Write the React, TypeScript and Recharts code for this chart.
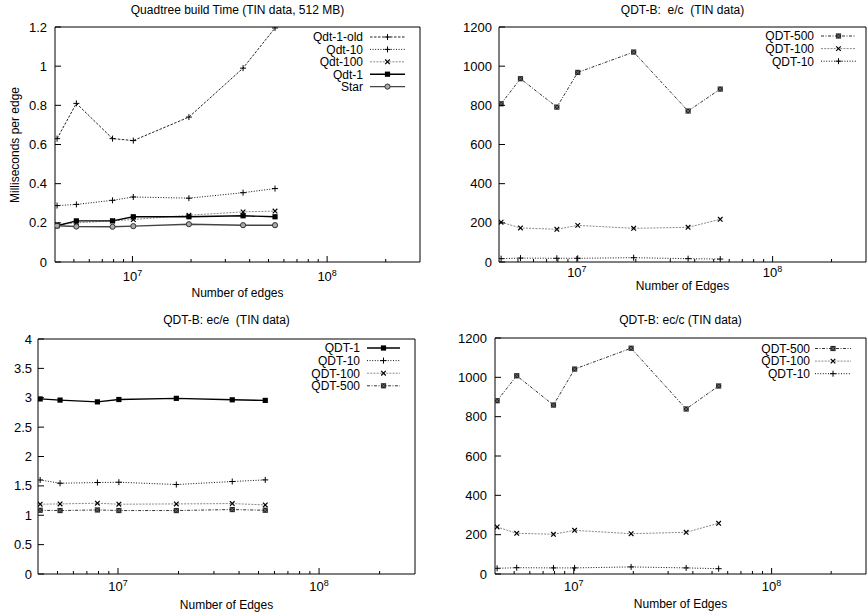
import { LineChart, Line, XAxis, YAxis, ReferenceArea } from "recharts";

const FONT = '"Liberation Sans", Arial, Helvetica, sans-serif';

// x: number of edges (shared by all four plots)
const edges = [4.1e6, 5.15e6, 7.9e6, 1.01e7, 1.95e7, 3.7e7, 5.4e7];
const xDomain = [4e6, 3e8];
const xTicks = [5e6, 6e6, 7e6, 8e6, 9e6, 1e7, 2e7, 3e7, 4e7, 5e7, 6e7, 7e7, 8e7, 9e7, 1e8, 2e8];

// Quadtree build time, ms per edge
const buildQdt1Old = [0.63, 0.81, 0.63, 0.62, 0.74, 0.99, 1.195];
const buildQdt10 = [0.288, 0.294, 0.315, 0.332, 0.326, 0.354, 0.375];
const buildQdt100 = [0.19, 0.2, 0.21, 0.217, 0.239, 0.256, 0.26];
const buildQdt1 = [0.185, 0.21, 0.21, 0.231, 0.231, 0.236, 0.231];
const buildStar = [0.185, 0.181, 0.18, 0.183, 0.193, 0.188, 0.188];
const buildTicks = [0, 0.2, 0.4, 0.6, 0.8, 1, 1.2];

// QDT-B e/c
const ecQdt500 = [808, 936, 791, 968, 1072, 771, 883];
const ecQdt100 = [203, 174, 167, 187, 172, 177, 218];
const ecQdt10 = [17, 20, 19, 19, 22, 17, 15];
const countTicks = [0, 200, 400, 600, 800, 1000, 1200];

// QDT-B ec/e
const eceQdt1 = [2.98, 2.96, 2.93, 2.97, 2.99, 2.965, 2.955];
const eceQdt10 = [1.6, 1.545, 1.557, 1.562, 1.523, 1.574, 1.602];
const eceQdt100 = [1.188, 1.193, 1.205, 1.188, 1.193, 1.199, 1.176];
const eceQdt500 = [1.085, 1.08, 1.09, 1.08, 1.08, 1.097, 1.085];
const ratioTicks = [0, 0.5, 1, 1.5, 2, 2.5, 3, 3.5, 4];

// QDT-B ec/c
const eccQdt500 = [881, 1008, 859, 1042, 1148, 839, 956];
const eccQdt100 = [239, 207, 202, 222, 205, 212, 258];
const eccQdt10 = [29, 32, 31, 31, 36, 31, 27];

type MarkerKind = "plus" | "cross" | "square" | "circle" | "boxcross";

type Series = {
  key: string;
  label: string;
  values: number[];
  stroke: string;
  dash?: string;
  width: number;
  marker: MarkerKind;
};

const s = (key: string, label: string, values: number[], style: string): Series => {
  const styles: Record<string, Omit<Series, "key" | "label" | "values">> = {
    old: { stroke: "#222", dash: "2.5 1.5", width: 1, marker: "plus" },
    dotted: { stroke: "#111", dash: "1 1.6", width: 1, marker: "plus" },
    grey: { stroke: "#8a8a8a", dash: "2 1.2", width: 1, marker: "cross" },
    solid: { stroke: "#000", width: 1.4, marker: "square" },
    star: { stroke: "#444", width: 1.4, marker: "circle" },
    dashdot: { stroke: "#333", dash: "3 1.5 1 1.5", width: 1, marker: "boxcross" },
  };
  return { key, label, values, ...styles[style] };
};

function Marker({ kind, cx, cy }: { kind: MarkerKind; cx: number; cy: number }) {
  if (cx == null || cy == null) return null;
  switch (kind) {
    case "plus":
      return <path d={`M${cx - 3},${cy}H${cx + 3}M${cx},${cy - 3}V${cy + 3}`} stroke="#000" strokeWidth={1} fill="none" />;
    case "cross":
      return (
        <path
          d={`M${cx - 2.3},${cy - 2.3}L${cx + 2.3},${cy + 2.3}M${cx - 2.3},${cy + 2.3}L${cx + 2.3},${cy - 2.3}`}
          stroke="#000"
          strokeWidth={1.2}
          fill="none"
        />
      );
    case "square":
      return <rect x={cx - 2.6} y={cy - 2.6} width={5.2} height={5.2} fill="#000" />;
    case "circle":
      return <circle cx={cx} cy={cy} r={2.6} fill="#aaa" stroke="#333" strokeWidth={1} />;
    case "boxcross":
      return (
        <g>
          <rect x={cx - 2.6} y={cy - 2.6} width={5.2} height={5.2} fill="#222" />
          <path d={`M${cx - 2},${cy - 2}L${cx + 2},${cy + 2}M${cx - 2},${cy + 2}L${cx + 2},${cy - 2}`} stroke="#888" strokeWidth={0.7} />
        </g>
      );
  }
  return null;
}

function XTick(props: any) {
  const { x, y, payload, labelDy } = props;
  const v = payload.value as number;
  const exp = Math.round(Math.log10(v));
  const major = Math.abs(Math.log10(v) - exp) < 1e-6;
  return (
    <g>
      <line x1={x} x2={x} y1={y} y2={y - (major ? 6 : 3)} stroke="#000" strokeWidth={1} />
      {major && (
        <text x={x} y={y + labelDy} textAnchor="middle" fontFamily={FONT} fontSize={13} fill="#000">
          10
          <tspan dy={-5} fontSize={9}>
            {exp}
          </tspan>
        </text>
      )}
    </g>
  );
}

function YTick(props: any) {
  const { x, y, payload, gap } = props;
  return (
    <g>
      <line x1={x} x2={x + 6} y1={y} y2={y} stroke="#000" strokeWidth={1} />
      <text x={x - gap} y={y + 4.5} textAnchor="end" fontFamily={FONT} fontSize={13} fill="#000">
        {String(payload.value)}
      </text>
    </g>
  );
}

type PanelProps = {
  left: number;
  top: number;
  width: number;
  height: number;
  plotTop: number;
  plotRight: number;
  yAxisWidth: number;
  xAxisHeight: number;
  yTicks: number[];
  series: Series[];
  title: string;
  titleY: number;
  xLabel: string;
  xLabelY: number;
  yLabel?: string;
  tickDy: number;
  yGap: number;
  legend: { textEnd: number; x1: number; x2: number; y0: number; step: number };
};

function Panel(p: PanelProps) {
  const data = edges.map((e, i) => {
    const row: Record<string, number> = { edges: e };
    p.series.forEach((ser) => (row[ser.key] = ser.values[i]));
    return row;
  });
  const yDomain = [p.yTicks[0], p.yTicks[p.yTicks.length - 1]];
  const plotLeft = p.yAxisWidth;
  const plotRightX = p.width - p.plotRight;
  const cx = (plotLeft + plotRightX) / 2;
  const plotBottom = p.height - p.xAxisHeight;
  const textStyle = {
    position: "absolute" as const,
    width: 320,
    left: cx - 160,
    textAlign: "center" as const,
    fontFamily: FONT,
    fontSize: 12,
    lineHeight: "14px",
    whiteSpace: "pre" as const,
    color: "#000",
  };
  return (
    <div style={{ position: "absolute", left: p.left, top: p.top, width: p.width, height: p.height }}>
      <div style={{ ...textStyle, top: p.titleY - 7 }}>{p.title}</div>
      <LineChart
        width={p.width}
        height={p.height}
        data={data}
        margin={{ top: p.plotTop, right: p.plotRight, bottom: 0, left: 0 }}
      >
        <XAxis
          dataKey="edges"
          type="number"
          scale="log"
          domain={xDomain}
          ticks={xTicks}
          interval={0}
          allowDataOverflow
          height={p.xAxisHeight}
          axisLine={false}
          tickLine={false}
          tickSize={0}
          tickMargin={0}
          tick={<XTick labelDy={p.tickDy} />}
        />
        <YAxis
          type="number"
          domain={yDomain}
          ticks={p.yTicks}
          interval={0}
          allowDataOverflow
          width={p.yAxisWidth}
          axisLine={false}
          tickLine={false}
          tickSize={0}
          tickMargin={0}
          tick={<YTick gap={p.yGap} />}
        />
        {p.series.map((ser) => (
          <Line
            key={ser.key}
            dataKey={ser.key}
            type="linear"
            stroke={ser.stroke}
            strokeWidth={ser.width}
            strokeDasharray={ser.dash}
            isAnimationActive={false}
            activeDot={false}
            dot={(d: any) => <Marker key={`${ser.key}-${d.index}`} kind={ser.marker} cx={d.cx} cy={d.cy} />}
          />
        ))}
        <ReferenceArea
          x1={xDomain[0]}
          x2={xDomain[1]}
          y1={yDomain[0]}
          y2={yDomain[1]}
          fill="none"
          stroke="#000"
          strokeWidth={1}
          ifOverflow="visible"
        />
      </LineChart>
      <svg
        width={p.width}
        height={p.height}
        style={{ position: "absolute", left: 0, top: 0, pointerEvents: "none" }}
      >
        {p.series.map((ser, i) => {
          const y = p.legend.y0 + i * p.legend.step;
          return (
            <g key={ser.key}>
              <text x={p.legend.textEnd} y={y + 4.3} textAnchor="end" fontFamily={FONT} fontSize={12} fill="#000">
                {ser.label}
              </text>
              <line
                x1={p.legend.x1}
                x2={p.legend.x2}
                y1={y}
                y2={y}
                stroke={ser.stroke}
                strokeWidth={ser.width}
                strokeDasharray={ser.dash}
              />
              <Marker kind={ser.marker} cx={(p.legend.x1 + p.legend.x2) / 2} cy={y} />
            </g>
          );
        })}
      </svg>
      <div style={{ ...textStyle, top: p.xLabelY - 7 }}>{p.xLabel}</div>
      {p.yLabel && (
        <div
          style={{
            ...textStyle,
            width: 200,
            left: 15 - 100,
            top: (p.plotTop + plotBottom) / 2 - 7,
            transform: "rotate(-90deg)",
          }}
        >
          {p.yLabel}
        </div>
      )}
    </div>
  );
}

export default function App() {
  return (
    <div
      style={{
        position: "absolute",
        left: 0,
        top: 0,
        width: 868,
        height: 615,
        overflow: "hidden",
        background: "#fff",
      }}
    >
      <Panel
        left={0}
        top={0}
        width={434}
        height={300}
        plotTop={27}
        plotRight={14}
        yAxisWidth={55}
        xAxisHeight={38}
        yTicks={buildTicks}
        title="Quadtree build Time (TIN data, 512 MB)"
        titleY={10}
        xLabel="Number of edges"
        xLabelY={293}
        yLabel="Milliseconds per edge"
        tickDy={19}
        yGap={8}
        legend={{ textEnd: 363, x1: 370, x2: 405, y0: 37, step: 12.4 }}
        series={[
          s("old", "Qdt-1-old", buildQdt1Old, "old"),
          s("q10", "Qdt-10", buildQdt10, "dotted"),
          s("q100", "Qdt-100", buildQdt100, "grey"),
          s("q1", "Qdt-1", buildQdt1, "solid"),
          s("star", "Star", buildStar, "star"),
        ]}
      />
      <Panel
        left={434}
        top={0}
        width={434}
        height={300}
        plotTop={27}
        plotRight={2}
        yAxisWidth={65}
        xAxisHeight={38}
        yTicks={countTicks}
        title="QDT-B:  e/c  (TIN data)"
        titleY={10}
        xLabel="Number of Edges"
        xLabelY={286}
        tickDy={15}
        yGap={7}
        legend={{ textEnd: 380, x1: 387, x2: 422, y0: 36, step: 12.6 }}
        series={[
          s("q500", "QDT-500", ecQdt500, "dashdot"),
          s("q100", "QDT-100", ecQdt100, "grey"),
          s("q10", "QDT-10", ecQdt10, "dotted"),
        ]}
      />
      <Panel
        left={0}
        top={300}
        width={434}
        height={315}
        plotTop={39}
        plotRight={19}
        yAxisWidth={38}
        xAxisHeight={41}
        yTicks={ratioTicks}
        title="QDT-B: ec/e  (TIN data)"
        titleY={20}
        xLabel="Number of Edges"
        xLabelY={305}
        tickDy={17}
        yGap={6}
        legend={{ textEnd: 360, x1: 367, x2: 400, y0: 48, step: 12.6 }}
        series={[
          s("q1", "QDT-1", eceQdt1, "solid"),
          s("q10", "QDT-10", eceQdt10, "dotted"),
          s("q100", "QDT-100", eceQdt100, "grey"),
          s("q500", "QDT-500", eceQdt500, "dashdot"),
        ]}
      />
      <Panel
        left={434}
        top={300}
        width={434}
        height={315}
        plotTop={38}
        plotRight={2}
        yAxisWidth={61}
        xAxisHeight={41}
        yTicks={countTicks}
        title="QDT-B: ec/c (TIN data)"
        titleY={20}
        xLabel="Number of Edges"
        xLabelY={304}
        tickDy={17}
        yGap={8}
        legend={{ textEnd: 376, x1: 381, x2: 417, y0: 48.5, step: 12.6 }}
        series={[
          s("q500", "QDT-500", eccQdt500, "dashdot"),
          s("q100", "QDT-100", eccQdt100, "grey"),
          s("q10", "QDT-10", eccQdt10, "dotted"),
        ]}
      />
    </div>
  );
}
